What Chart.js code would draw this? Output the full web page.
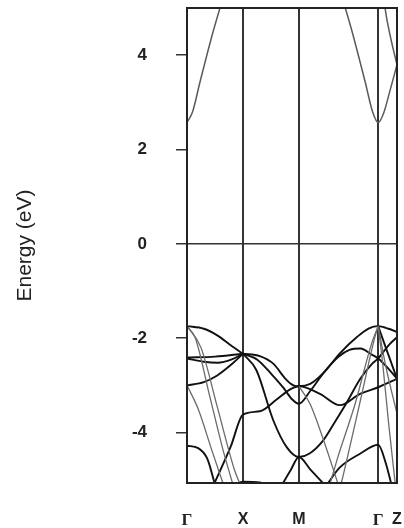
<!DOCTYPE html>
<html>
<head>
<meta charset="utf-8">
<script src="https://cdn.jsdelivr.net/npm/chart.js@4"></script>
<style>
  html, body { margin: 0; padding: 0; background: #fff; }
</style>
</head>
<body>
<canvas id="bands" width="404" height="528"></canvas>
<script>
// k-path Γ - X - M - Γ - Z, distances scaled so that Γ-X = 1
const kPos = [0, 1, 2, 3.414, 3.75];
const kLabels = ["Γ", "X", "M", "Γ", "Z"];
const energyTicks = [-4, -2, 0, 2, 4];

// conduction bands, [k, E (eV)]
const conduction = [
  [[0, 2.57], [0.1, 2.8], [0.232, 3.43], [0.464, 4.49], [0.6, 5.05], [0.7, 5.5]],
  [[2.7, 5.5], [2.814, 5.05], [2.95, 4.49], [3.182, 3.43], [3.314, 2.8], [3.414, 2.57], [3.514, 2.78], [3.614, 3.2], [3.75, 3.8]],
  [[3.5, 5.4], [3.536, 5.0], [3.64, 4.35], [3.75, 3.8]]
];

// valence bands drawn heavy
const valence = [
  [[0, -1.745], [0.3, -1.8], [0.54, -1.94], [0.78, -2.15], [1, -2.33]],
  [[0, -2.41], [0.5, -2.39], [1, -2.33]],
  [[0, -2.43], [0.3, -2.5], [0.55, -2.52], [0.8, -2.45], [1, -2.33]],
  [[0, -3.0], [0.3, -2.93], [0.54, -2.79], [0.78, -2.57], [1, -2.33]],
  [[0, -4.28], [0.2, -4.33], [0.36, -4.55], [0.5, -5.1]],
  [[0.48, -5.1], [0.78, -4.3], [1, -3.62], [1.3, -3.55], [1.6, -3.3], [1.85, -3.08], [2, -3.02], [2.375, -3.18], [2.73, -3.42], [3.09, -3.18], [3.414, -3.04], [3.75, -2.86]],
  [[1, -2.33], [1.3, -2.38], [1.55, -2.55], [1.75, -2.85], [1.9, -3.0], [2, -3.02], [2.2, -2.97], [2.45, -2.72], [2.73, -2.32], [3.04, -1.97], [3.25, -1.79], [3.414, -1.745], [3.6, -1.8], [3.75, -1.87]],
  [[1, -2.33], [1.25, -2.45], [1.5, -2.75], [1.72, -3.05], [1.88, -3.3], [2, -3.39], [2.2, -3.12], [2.45, -2.72], [2.7, -2.4], [2.9, -2.25], [3.1, -2.22], [3.3, -2.35], [3.414, -2.43], [3.6, -2.65], [3.75, -2.86]],
  [[1, -2.33], [1.24, -2.68], [1.54, -3.74], [1.78, -4.31], [2, -4.52], [2.18, -4.45], [2.43, -4.17], [2.66, -3.74], [2.84, -3.39], [3.1, -2.85], [3.3, -2.55], [3.414, -2.43], [3.6, -2.15], [3.75, -1.98]],
  [[1.7, -5.1], [1.85, -4.8], [2, -4.52], [2.2, -4.78], [2.45, -5.1]],
  [[2.5, -5.1], [2.73, -4.74], [3.09, -4.45], [3.414, -4.26], [3.55, -4.65], [3.65, -5.1]],
  [[0.85, -5.1], [1, -5.04], [1.3, -5.06], [1.45, -5.12]],
  [[3.414, -1.745], [3.55, -2.2], [3.75, -2.86]]
];

// steep valence branches, drawn thin and grey
const valenceSteep = [
  [[0, -1.745], [0.15, -2.0], [0.4, -3.2], [0.65, -4.4], [0.82, -5.1]],
  [[0, -1.745], [0.25, -2.2], [0.55, -3.5], [0.85, -4.8], [0.95, -5.1]],
  [[0, -3.0], [0.2, -3.5], [0.45, -4.4], [0.65, -5.1]],
  [[2, -3.02], [2.2, -3.4], [2.45, -4.2], [2.7, -5.1]],
  [[2.55, -5.1], [2.7, -4.5], [3.0, -3.4], [3.3, -2.1], [3.414, -1.745]],
  [[2.75, -5.1], [2.85, -4.6], [3.1, -3.3], [3.35, -2.0], [3.414, -1.745]],
  [[3.414, -1.745], [3.5, -2.6], [3.6, -3.8], [3.72, -5.1]],
  [[3.414, -1.745], [3.55, -2.6], [3.75, -3.6]]
];

function toDataset(pts, color, width) {
  return {
    data: pts.map(([x, y]) => ({ x: x, y: y })),
    borderColor: color,
    borderWidth: width,
    pointRadius: 0,
    showLine: true,
    fill: false,
    clip: 0,
    cubicInterpolationMode: "monotone"
  };
}

const datasets = []
  .concat(valenceSteep.map(b => toDataset(b, "#6b6b6b", 1.3)))
  .concat(conduction.map(b => toDataset(b, "#5a5a5a", 1.5)))
  .concat(valence.map(b => toDataset(b, "#111", 1.9)));

// top and right edges of the box
const frame = {
  id: "frame",
  afterDatasetsDraw(chart) {
    const a = chart.chartArea;
    const ctx = chart.ctx;
    ctx.save();
    ctx.strokeStyle = "#222";
    ctx.lineWidth = 2;
    ctx.strokeRect(a.left, a.top, a.right - a.left, a.bottom - a.top);
    ctx.restore();
  }
};

// the tick label padding should not push the plot box inwards
function noEdgePadding(scale) {
  scale.paddingTop = 0;
  scale.paddingBottom = 0;
  scale.paddingLeft = 0;
  scale.paddingRight = 0;
}

new Chart(document.getElementById("bands"), {
  type: "scatter",
  data: { datasets: datasets },
  options: {
    responsive: false,
    animation: false,
    layout: { padding: { top: 8, right: 7, left: 0, bottom: 0 } },
    plugins: { legend: { display: false }, tooltip: { enabled: false } },
    scales: {
      x: {
        type: "linear",
        min: 0,
        max: 3.75,
        afterBuildTicks: (scale) => { scale.ticks = kPos.map(v => ({ value: v })); },
        afterFit: (scale) => { scale.height = 45; noEdgePadding(scale); },
        ticks: {
          autoSkip: false,
          maxRotation: 0,
          padding: 27,
          color: "#222",
          font: (ctx) => kLabels[ctx.index] === "Γ"
            ? { family: "Liberation Serif", size: 17, weight: "bold" }
            : { family: "Liberation Sans", size: 16, weight: "bold" },
          callback: (value, i) => kLabels[i]
        },
        grid: { color: "#333", lineWidth: 2, drawTicks: false },
        border: { display: true, color: "#222", width: 2 }
      },
      y: {
        min: -5.07,
        max: 5,
        afterBuildTicks: (scale) => { scale.ticks = energyTicks.map(v => ({ value: v })); },
        afterFit: (scale) => { scale.width = 187; noEdgePadding(scale); },
        ticks: {
          padding: 29,
          color: "#222",
          font: { family: "Liberation Sans", size: 17, weight: "bold" }
        },
        grid: {
          color: (ctx) => ctx.tick && ctx.tick.value === 0 ? "#333" : "rgba(0,0,0,0)",
          lineWidth: 1.5,
          tickColor: "#333",
          tickWidth: 1.5,
          tickLength: 11
        },
        border: { display: true, color: "#222", width: 2 },
        title: {
          display: true,
          text: "Energy (eV)",
          color: "#222",
          font: { family: "Liberation Sans", size: 21 },
          padding: { top: 13, bottom: 0 }
        }
      }
    }
  },
  plugins: [frame]
});
</script>
</body>
</html>
